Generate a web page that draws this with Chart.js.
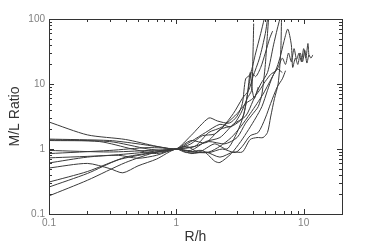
<!DOCTYPE html>
<html>
<head>
<meta charset="utf-8">
<script src="https://cdn.jsdelivr.net/npm/chart.js@4"></script>
<style>
  html, body { margin: 0; padding: 0; background: #fff; }
  #wrap { width: 382px; height: 248px; }
</style>
</head>
<body>
<div id="wrap"><canvas id="chart"></canvas></div>
<script>
// axis ticks
const xTickValues = [0.1, 1, 10];
const yTickValues = [0.1, 1, 10, 100];

// M/L ratio profiles, one pair of arrays per galaxy (R/h, M/L)
const g1x = [0.1, 0.2, 0.4, 0.7, 1, 1.3, 1.7, 2.2, 2.7, 3.2, 3.6, 3.9, 4.0, 4.05];
const g1y = [2.6, 1.65, 1.4, 1.1, 1, 1.3, 1.8, 2.4, 2.2, 3.5, 6, 8, 30, 85];
const g2x = [0.1, 0.3, 0.5, 0.8, 1, 1.3, 1.8, 2.1, 2.6, 3.0, 3.3, 3.5, 3.8, 4.2, 4.6, 4.9];
const g2y = [1.42, 1.35, 1.2, 1.05, 1, 1.6, 3.0, 2.7, 2.5, 3.2, 5, 12, 14, 30, 60, 100];
const g3x = [0.1, 0.3, 0.6, 0.8, 1, 1.4, 1.8, 2.3, 2.8, 3.3, 3.7, 4.0, 4.5, 5.0, 5.2];
const g3y = [1.38, 1.3, 1.0, 0.95, 1, 1.1, 1.8, 2.2, 3.5, 6, 8, 13, 25, 60, 100];
const g4x = [0.1, 0.25, 0.45, 0.7, 1, 1.3, 1.7, 2.2, 2.8, 3.5, 4.0, 4.6, 5.2, 5.8, 6.2, 6.5];
const g4y = [1.35, 1.3, 1.0, 0.85, 1, 0.95, 1.3, 1.5, 2.4, 3.2, 5.5, 10, 15, 40, 70, 100];
const g5x = [0.1, 0.3, 0.6, 1, 1.3, 1.6, 2.0, 2.5, 3.0, 3.5, 4.0, 4.5, 5.0, 5.5, 6.0, 6.5, 7.0, 7.5, 8.0, 8.2, 8.6, 9.0, 9.4, 9.8, 10.2, 10.6, 11.0, 11.4, 11.8];
const g5y = [0.95, 0.9, 0.95, 1, 1.2, 1.6, 1.7, 2.5, 3.5, 5, 6, 8, 11, 14, 16, 25, 45, 70, 40, 18, 25, 20, 30, 22, 33, 21, 28, 25, 28];
const g6x = [0.1, 0.3, 0.6, 1, 1.4, 1.8, 2.2, 2.7, 3.2, 3.8, 4.3, 4.8, 5.3, 5.8, 6.3, 6.8, 7.2, 7.6, 8.0, 8.4, 8.8, 9.2, 9.6, 10.0, 10.4, 10.8, 11.0];
const g6y = [0.85, 0.95, 1.05, 1, 0.9, 0.9, 1.1, 1.5, 2.2, 3.5, 5, 7, 10, 14, 18, 25, 20, 30, 22, 35, 24, 30, 22, 35, 25, 42, 26];
const g7x = [0.1, 0.3, 0.6, 1, 1.2, 1.6, 2.0, 2.2, 2.7, 3.2, 3.7, 4.2, 4.7, 5.2, 5.7, 6.2, 6.8];
const g7y = [0.73, 0.8, 0.9, 1, 0.88, 0.95, 0.65, 0.62, 0.85, 1.3, 2.0, 3.0, 4.5, 8, 13, 17, 15];
const g8x = [0.1, 0.2, 0.35, 0.5, 0.7, 1, 1.3, 1.8, 2.3, 2.9, 3.3, 3.8, 4.4, 5.0, 5.5, 6.2, 6.8, 7.2];
const g8y = [0.61, 0.75, 0.8, 0.72, 0.8, 1, 0.9, 0.88, 1.0, 0.88, 1.1, 1.6, 1.8, 3, 5, 9, 12, 16];
const g9x = [0.1, 0.2, 0.3, 0.38, 0.5, 0.7, 1, 1.3, 1.7, 2.2, 2.8, 3.3, 3.8, 4.3, 4.8, 5.2, 5.5, 5.9, 6.3, 6.6, 6.7];
const g9y = [0.51, 0.6, 0.5, 0.43, 0.55, 0.7, 1, 0.85, 0.9, 0.75, 0.9, 0.9, 1.4, 1.5, 1.5, 1.8, 3.1, 6, 10, 30, 100];
const g10x = [0.1, 0.2, 0.4, 0.7, 1, 1.4, 1.8, 2.4, 3.0, 3.5, 4.0, 4.4, 4.7, 5.0, 5.2, 5.3];
const g10y = [0.31, 0.45, 0.75, 0.9, 1, 1.1, 1.3, 1.2, 1.5, 2.5, 3.5, 4.5, 7, 20, 60, 100];
const g11x = [0.1, 0.2, 0.35, 0.6, 1, 1.3, 1.7, 2.2, 2.8, 3.3, 3.6, 3.8, 3.95, 4.1, 4.4];
const g11y = [0.26, 0.42, 0.68, 0.85, 1, 1.35, 1.25, 2.0, 2.3, 3.0, 6.5, 15, 8, 6, 9];
const g12x = [0.1, 0.2, 0.4, 0.7, 1, 1.2, 1.5, 2.0, 2.5, 3.0, 3.4, 3.7, 3.9, 4.2, 4.6, 5.0, 5.4, 5.7];
const g12y = [0.19, 0.33, 0.62, 0.9, 1, 1.1, 0.9, 1.2, 1.0, 1.8, 3.5, 9, 15, 13, 18, 30, 50, 65];

const profiles = [
    [g1x, g1y], [g2x, g2y], [g3x, g3y], [g4x, g4y], [g5x, g5y], [g6x, g6y],
    [g7x, g7y], [g8x, g8y], [g9x, g9y], [g10x, g10y], [g11x, g11y], [g12x, g12y]
];

const LINE_COLOR = '#3a3a3a';
const FRAME_COLOR = '#333';

/**
 * draws the inward tick marks on all four sides and closes the frame
 */
const frameTicks = {
    id: 'frameTicks',
    afterDraw(chart) {
        const ctx = chart.ctx;
        const area = chart.chartArea;
        const xs = chart.scales.x;
        const ys = chart.scales.y;
        ctx.save();
        ctx.strokeStyle = FRAME_COLOR;
        ctx.lineWidth = 1;
        ctx.beginPath();
        for (let d of [0.1, 1, 10]) {
            for (let k = 1; k <= 9; k++) {
                let v = k * d;
                let len = k === 1 ? 5 : 3;
                if (v >= xs.min && v <= xs.max) {
                    let px = Math.round(xs.getPixelForValue(v)) + 0.5;
                    ctx.moveTo(px, area.bottom);
                    ctx.lineTo(px, area.bottom - len);
                    ctx.moveTo(px, area.top);
                    ctx.lineTo(px, area.top + len);
                }
            }
        }
        for (let d of [0.1, 1, 10, 100]) {
            for (let k = 1; k <= 9; k++) {
                let v = k * d;
                let len = k === 1 ? 5 : 3;
                if (v >= ys.min && v <= ys.max) {
                    let py = Math.round(ys.getPixelForValue(v)) + 0.5;
                    ctx.moveTo(area.left, py);
                    ctx.lineTo(area.left + len, py);
                    ctx.moveTo(area.right, py);
                    ctx.lineTo(area.right - len, py);
                }
            }
        }
        ctx.stroke();
        ctx.strokeRect(Math.round(area.left) + 0.5, Math.round(area.top) + 0.5,
            Math.round(area.right - area.left), Math.round(area.bottom - area.top));
        ctx.restore();
    }
};

let datasets = profiles.map(function (p, i) {
    return {
        label: 'galaxy ' + (i + 1),
        data: p[0].map(function (x, j) { return {x: x, y: p[1][j]}; }),
        borderColor: LINE_COLOR,
        borderWidth: 1,
        pointRadius: 0,
        tension: 0.25,
        fill: false
    };
});

new Chart(document.getElementById('chart'), {
    type: 'line',
    data: {datasets: datasets},
    plugins: [frameTicks],
    options: {
        responsive: true,
        maintainAspectRatio: false,
        animation: false,
        layout: {padding: {top: 19, right: 40, left: 0, bottom: 0}},
        plugins: {legend: {display: false}, tooltip: {enabled: false}},
        scales: {
            x: {
                type: 'logarithmic',
                min: 0.1,
                max: 20,
                afterBuildTicks: function (scale) {
                    scale.ticks = xTickValues.map(function (v) { return {value: v}; });
                },
                afterFit: function (scale) { scale.height = 34; },
                grid: {display: false, drawTicks: false},
                border: {display: true, color: FRAME_COLOR, width: 1},
                ticks: {
                    padding: 3,
                    maxRotation: 0,
                    autoSkip: false,
                    color: '#808080',
                    font: {family: 'Arial, "Liberation Sans"', size: 10},
                    callback: function (v) { return String(v); }
                },
                title: {
                    display: true,
                    text: 'R/h',
                    color: '#333',
                    padding: 2,
                    font: {family: 'Arial, "Liberation Sans"', size: 14}
                }
            },
            y: {
                type: 'logarithmic',
                min: 0.1,
                max: 100,
                afterBuildTicks: function (scale) {
                    scale.ticks = yTickValues.map(function (v) { return {value: v}; });
                },
                afterFit: function (scale) { scale.width = 49; },
                grid: {display: false, drawTicks: false},
                border: {display: true, color: FRAME_COLOR, width: 1},
                ticks: {
                    padding: 4,
                    autoSkip: false,
                    color: '#808080',
                    font: {family: 'Arial, "Liberation Sans"', size: 10},
                    callback: function (v) { return String(v); }
                },
                title: {
                    display: true,
                    text: 'M/L Ratio',
                    color: '#333',
                    padding: 7,
                    font: {family: 'Arial, "Liberation Sans"', size: 14}
                }
            }
        }
    }
});
</script>
</body>
</html>
